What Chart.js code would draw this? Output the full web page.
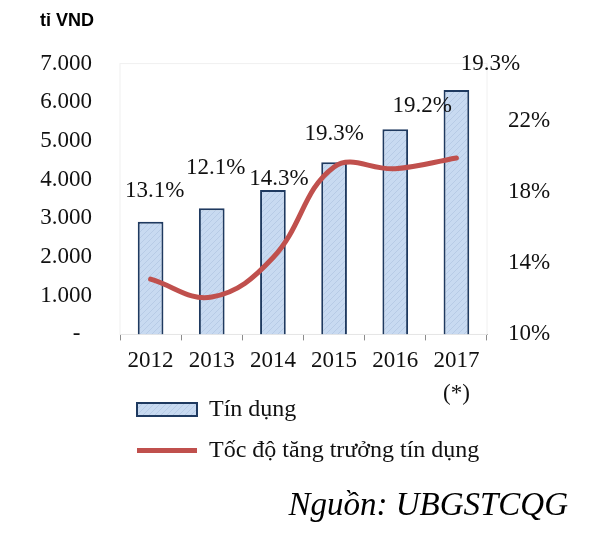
<!DOCTYPE html>
<html>
<head>
<meta charset="utf-8">
<script src="https://cdn.jsdelivr.net/npm/chart.js@4/dist/chart.umd.min.js"></script>
<style>
  body { margin: 0; background: #fff; }
  #wrap { width: 600px; height: 541px; position: relative; }
</style>
</head>
<body>
<div id="wrap"><canvas id="creditChart"></canvas></div>
<script>
// Chart data
const years = ['2012', '2013', '2014', '2015', '2016', '2017'];
const yearNotes = ['', '', '', '', '', '(*)'];
const credit = [2910, 3260, 3730, 4450, 5300, 6320];
const growth = [13.1, 12.1, 14.3, 19.4, 19.3, 19.9];
const growthLabels = ['13.1%', '12.1%', '14.3%', '19.3%', '19.2%', '19.3%'];
const rateTicks = [10, 14, 18, 22];

// where each % label sits relative to the top of its bar
const labelShift = [[4, -31], [4, -40], [6, -11], [0, -28], [27, -23], [34, -26]];

// light blue fill with faint diagonal hatch, like the Excel bars
function makeHatch() {
    const c = document.createElement('canvas');
    c.width = 6;
    c.height = 6;
    const g = c.getContext('2d');
    g.fillStyle = '#c8daf1';
    g.fillRect(0, 0, 6, 6);
    g.strokeStyle = '#b7cbe6';
    g.lineWidth = 1;
    g.beginPath();
    g.moveTo(0, 6); g.lineTo(6, 0);
    g.moveTo(-3, 3); g.lineTo(3, -3);
    g.moveTo(3, 9); g.lineTo(9, 3);
    g.stroke();
    return g.createPattern(c, 'repeat');
}

// faint frame round the plot area
const plotFrame = {
    id: 'plotFrame',
    beforeDatasetsDraw(chart) {
        const { ctx, chartArea: a } = chart;
        ctx.save();
        ctx.strokeStyle = '#f0f0f0';
        ctx.lineWidth = 1;
        ctx.strokeRect(a.left, a.top, a.right - a.left, a.bottom - a.top);
        ctx.restore();
    }
};

// growth labels above the bars, and the (*) note under 2017
const growthText = {
    id: 'growthText',
    afterDatasetsDraw(chart) {
        const { ctx } = chart;
        const bars = chart.getDatasetMeta(0).data;
        const xScale = chart.scales.x;
        ctx.save();
        ctx.font = '23px "Liberation Serif"';
        ctx.fillStyle = '#111';
        ctx.textAlign = 'center';
        ctx.textBaseline = 'middle';
        bars.forEach((bar, i) => {
            ctx.fillText(growthLabels[i], bar.x + labelShift[i][0], bar.y + labelShift[i][1]);
        });
        yearNotes.forEach((note, i) => {
            if (note) ctx.fillText(note, xScale.getPixelForValue(i), xScale.top + 60);
        });
        ctx.restore();
    }
};

Chart.defaults.font.family = '"Liberation Serif", "Times New Roman", serif';
Chart.defaults.color = '#111';

const ctx = document.getElementById('creditChart').getContext('2d');
new Chart(ctx, {
    type: 'bar',
    data: {
        labels: years,
        datasets: [
            {
                label: 'Tín dụng',
                data: credit,
                yAxisID: 'y',
                backgroundColor: makeHatch(),
                borderColor: '#1f3a60',
                borderWidth: 2,
                barPercentage: 0.42,
                categoryPercentage: 1,
                pointStyle: 'rect',
                order: 2
            },
            {
                type: 'line',
                label: 'Tốc độ tăng trưởng tín dụng',
                data: growth,
                yAxisID: 'y1',
                borderColor: '#c0504d',
                backgroundColor: '#c0504d',
                borderWidth: 5,
                borderCapStyle: 'round',
                tension: 0.4,
                pointRadius: 0,
                pointHoverRadius: 0,
                pointStyle: 'line',
                order: 1
            }
        ]
    },
    options: {
        responsive: true,
        maintainAspectRatio: false,
        animation: false,
        layout: { padding: { left: 40, right: 32, top: 0, bottom: 0 } },
        plugins: {
            title: {
                display: true,
                text: 'tỉ VND',
                align: 'start',
                color: '#000',
                font: { family: '"Liberation Sans", Arial, sans-serif', size: 18, weight: 'bold' },
                padding: { top: 10, bottom: 32 }
            },
            subtitle: {
                display: true,
                text: 'Nguồn: UBGSTCQG',
                position: 'bottom',
                align: 'end',
                color: '#000',
                font: { size: 33, style: 'italic' },
                padding: { top: 14, bottom: 15 }
            },
            legend: {
                position: 'bottom',
                align: 'start',
                fullSize: false,
                labels: {
                    usePointStyle: true,
                    pointStyleWidth: 60,
                    boxWidth: 60,
                    boxHeight: 13,
                    padding: 17,
                    color: '#111',
                    font: { size: 24 },
                    sort: (a, b) => a.datasetIndex - b.datasetIndex
                }
            },
            tooltip: { enabled: false }
        },
        scales: {
            x: {
                offset: true,
                grid: {
                    display: true,
                    drawOnChartArea: false,
                    drawTicks: true,
                    tickLength: 6,
                    offset: true,
                    color: '#8c8c8c'
                },
                border: { display: true, color: '#8c8c8c', width: 1 },
                ticks: {
                    padding: 4,
                    maxRotation: 0,
                    font: { size: 23, lineHeight: 1.43 }
                },
                afterFit: s => { s.height = 46; }
            },
            y: {
                position: 'left',
                min: 0,
                max: 7000,
                grid: { display: false, drawTicks: false },
                border: { display: false },
                ticks: {
                    stepSize: 1000,
                    padding: 28,
                    font: { size: 23 },
                    callback: v => v === 0 ? '-  ' : String(v).replace(/\B(?=(\d{3})+(?!\d))/g, '.')
                },
                afterFit: s => { s.width = 80; }
            },
            y1: {
                position: 'right',
                min: 10,
                max: 25.2,
                grid: { display: false, drawTicks: false },
                border: { display: false },
                ticks: {
                    padding: 21,
                    font: { size: 23 },
                    callback: v => v + '%'
                },
                afterBuildTicks: s => { s.ticks = rateTicks.map(v => ({ value: v })); },
                afterFit: s => { s.width = 81; }
            }
        }
    },
    plugins: [plotFrame, growthText]
});
</script>
</body>
</html>
